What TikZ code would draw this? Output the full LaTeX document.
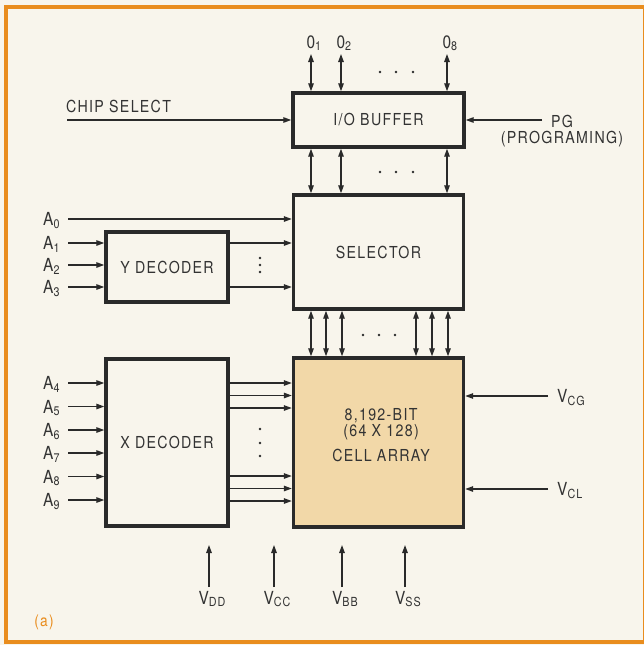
\documentclass[tikz,border=0pt]{standalone}
\usepackage{fontspec}
\setmainfont{TeX Gyre Heros}[FakeStretch=0.86,LetterSpace=8]
\usetikzlibrary{arrows.meta}
\definecolor{bg}{HTML}{F8F5EC}
\definecolor{framec}{HTML}{E98D1E}
\definecolor{ink}{HTML}{2A2A2A}
\definecolor{txt}{HTML}{333333}
\definecolor{tanfill}{HTML}{F2D8A8}
\newcommand\sbs[1]{\raisebox{-2.5pt}{\fontsize{12.5}{12.5}\selectfont #1}}
\begin{document}
\begin{tikzpicture}[x=1pt,y=-1pt,
  blk/.style={draw=ink, line width=3.4pt, inner sep=0pt, text=txt, font=\fontsize{16.5}{18}\selectfont},
  wire/.style={draw=ink, line width=1.3pt, -{Triangle[length=8pt,width=5.5pt]}},
  bwire/.style={draw=ink, line width=1.3pt, {Triangle[length=8pt,width=5.5pt]}-{Triangle[length=8pt,width=5.5pt]}},
  lbl/.style={text=txt, font=\fontsize{16.5}{18}\selectfont, inner sep=0pt},
  sig/.style={text=txt, font=\fontsize{18}{18}\selectfont, inner sep=0pt},
  dotc/.style={fill=ink}]
\useasboundingbox (0,0) rectangle (644,645);
\fill[bg] (0,0) rectangle (644,645);
\draw[framec, line width=3.5pt] (6,7) rectangle (645,642);

% blocks
\node[blk, minimum width=171pt, minimum height=54pt] (io) at (378.5,120) {I/O BUFFER};
\node[blk, minimum width=170pt, minimum height=114pt] (sel) at (378.5,252) {SELECTOR};
\node[blk, fill=tanfill, minimum width=170pt, minimum height=169pt] (cell) at (378.5,442.5) {};
\node[lbl, align=center] (celltxt) at (381,435) {8,192-BIT\\[-2pt](64 X 128)\\[7pt]CELL ARRAY};
\node[blk, minimum width=122pt, minimum height=70pt] (ydec) at (167,267) {Y DECODER};
\node[blk, minimum width=122pt, minimum height=167pt] (xdec) at (167,442.5) {X DECODER};

% outputs
\foreach \n/\x in {1/311,2/341,8/447} {
  \coordinate (out\n) at (\x,54);
  \draw[bwire] (out\n) -- (out\n |- io.north);
  \draw[bwire] (out\n |- io.south) -- (out\n |- sel.north);
  \node[sig, anchor=base west] (lo\n) at (\x-4.6,48) {0\sbs{\n}};
}
\foreach \x in {380,396,413} {
  \fill[dotc] (\x,72) circle (1.4pt);
  \fill[dotc] (\x,172) circle (1.4pt);
}

% chip select and PG
\coordinate (cs) at (67,120);
\draw[wire] (cs) -- (cs -| io.west);
\node[lbl, anchor=base west] (cslbl) at (66,112) {CHIP SELECT};
\coordinate (pg) at (542,120);
\draw[wire] (pg) -- (pg -| io.east);
\node[lbl, align=center, font=\fontsize{16.5}{16}\selectfont] (pglbl) at (562,131) {PG\\(PROGRAMING)};

% A0 - A3
\coordinate (a0) at (68,219);
\draw[wire] (a0) -- (a0 -| sel.west);
\node[sig, anchor=base west] (la0) at (43,225.5) {A\sbs{0}};
\foreach \n/\y in {1/243,2/265,3/287} {
  \coordinate (a\n) at (68,\y);
  \draw[wire] (a\n) -- (a\n -| ydec.west);
  \node[sig, anchor=base west] (la\n) at (43,\y+6.5) {A\sbs{\n}};
}
\draw[wire] (ydec.east |- a1) -- (sel.west |- a1);
\draw[wire] (ydec.east |- a3) -- (sel.west |- a3);
\foreach \y in {258,265,272} \fill[dotc] (260,\y) circle (1.4pt);

% selector to cell array
\foreach \i/\x in {1/311,2/326,3/342,4/416,5/432,6/448} {
  \coordinate (sx\i) at (\x,330);
  \draw[bwire] (sx\i |- sel.south) -- (sx\i |- cell.north);
}
\foreach \x in {363,379,395} \fill[dotc] (\x,335) circle (1.4pt);

% A4 - A9
\foreach \n/\y in {4/383,5/406.5,6/430,7/453,8/476.5,9/500} {
  \coordinate (a\n) at (68,\y);
  \draw[wire] (a\n) -- (a\n -| xdec.west);
  \node[sig, anchor=base west] (la\n) at (43,\y+6.5) {A\sbs{\n}};
}
% X decoder outputs
\foreach \i/\y in {1/383,2/395.5,3/408,4/476,5/488.5,6/501} {
  \coordinate (xo\i) at (260,\y);
  \draw[wire] (xdec.east |- xo\i) -- (cell.west |- xo\i);
}
\foreach \y in {429,443,456} \fill[dotc] (260,\y) circle (1.4pt);

% VCG, VCL
\coordinate (vcg) at (548,396);
\draw[wire] (vcg) -- (vcg -| cell.east);
\node[sig, anchor=base west] (lvcg) at (557,402.5) {V\sbs{CG}};
\coordinate (vcl) at (548,489);
\draw[wire] (vcl) -- (vcl -| cell.east);
\node[sig, anchor=base west] (lvcl) at (557,495.5) {V\sbs{CL}};

% bottom supplies
\foreach \nm/\x in {DD/209,CC/274,BB/342,SS/405} {
  \coordinate (v\nm) at (\x,587);
  \coordinate (t\nm) at (\x,545);
  \draw[wire] (v\nm) -- (t\nm);
  \node[sig, anchor=base] (lv\nm) at (\x+3,604) {V\sbs{\nm}};
}

\node[text=framec, font=\fontsize{16}{16}\selectfont, inner sep=0pt] (tag) at (44,622) {(a)};
\end{tikzpicture}
\end{document}
